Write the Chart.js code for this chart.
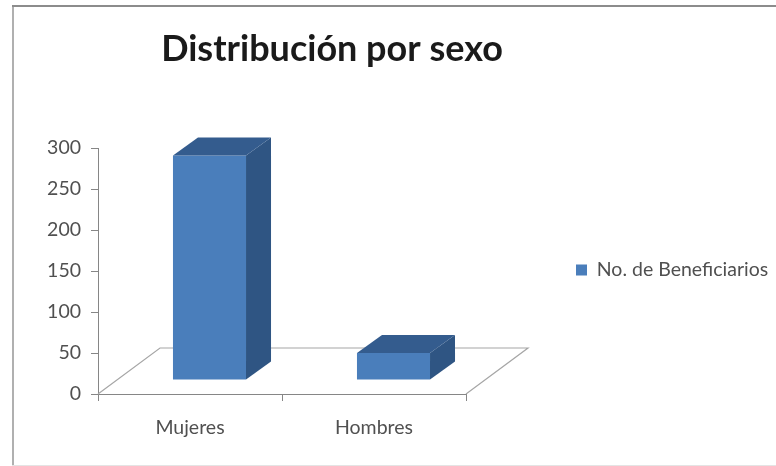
<!DOCTYPE html>
<html>
<head>
<meta charset="utf-8">
<script src="https://cdn.jsdelivr.net/npm/chart.js@4"></script>
<style>
  html, body { margin: 0; padding: 0; background: #fff; }
  #wrap { width: 776px; height: 466px; position: relative; }
</style>
</head>
<body>
<div id="wrap"><canvas id="grafico"></canvas></div>
<script>
const categorias = ['Mujeres', 'Hombres'];
const beneficiarios = [274, 33];
const ticksY = [0, 50, 100, 150, 200, 250, 300];

const colorFrente = '#4a7ebb';
const colorLado = '#2f5583';
const colorTecho = '#345c8e';
const colorEje = '#868686';
const colorTexto = '#505050';

// desplazamiento de la pseudo perspectiva 3D (estilo Excel)
const pisoDx = 62, pisoDy = 46;
const barraDx = 25, barraDy = 18;
const baseDx = 19.5, baseDy = 14;

function poligono(ctx, puntos, relleno) {
    ctx.beginPath();
    puntos.forEach((p, i) => i ? ctx.lineTo(p[0], p[1]) : ctx.moveTo(p[0], p[1]));
    ctx.closePath();
    ctx.fillStyle = relleno;
    ctx.fill();
}

const marco3D = {
    id: 'marco3D',
    afterLayout(chart) {
        // mover la leyenda a su sitio, a la derecha del area
        const leyenda = chart.legend;
        const ancho = leyenda.width, alto = leyenda.height;
        leyenda.left = 566; leyenda.right = 566 + ancho;
        leyenda.top = 270 - alto / 2; leyenda.bottom = 270 + alto / 2;
        // el titulo va centrado sobre el cuerpo, no sobre todo el lienzo
        chart.titleBlock.left = 0; chart.titleBlock.right = 664;
    },
    beforeDraw(chart) {
        const ctx = chart.ctx;
        ctx.save();
        ctx.fillStyle = '#b0b0b0';
        ctx.fillRect(12, 5, 2, 461);
        ctx.fillStyle = '#8c8c8c';
        ctx.fillRect(12, 5, 764, 2);
        ctx.fillStyle = '#e4e4e4';
        ctx.fillRect(12, 465, 764, 1);
        ctx.restore();
    },
    beforeDatasetsDraw(chart) {
        const ctx = chart.ctx, a = chart.chartArea;
        ctx.save();
        ctx.strokeStyle = '#a6a6a6';
        ctx.lineWidth = 1.2;
        ctx.beginPath();
        ctx.moveTo(a.left, a.bottom);
        ctx.lineTo(a.left + pisoDx, a.bottom - pisoDy);
        ctx.lineTo(a.right + pisoDx, a.bottom - pisoDy);
        ctx.lineTo(a.right, a.bottom);
        ctx.stroke();
        ctx.restore();
        ctx.save();
        ctx.translate(baseDx, -baseDy);
    },
    afterDatasetsDraw(chart) {
        const ctx = chart.ctx;
        chart.getDatasetMeta(0).data.forEach(barra => {
            const izq = barra.x - barra.width / 2, der = barra.x + barra.width / 2;
            poligono(ctx, [[der, barra.y], [der + barraDx, barra.y - barraDy],
                [der + barraDx, barra.base - barraDy], [der, barra.base]], colorLado);
            poligono(ctx, [[izq, barra.y], [izq + barraDx, barra.y - barraDy],
                [der + barraDx, barra.y - barraDy], [der, barra.y]], colorTecho);
        });
        ctx.restore();
    }
};

new Chart(document.getElementById('grafico'), {
    type: 'bar',
    data: {
        labels: categorias,
        datasets: [{
            label: 'No. de Beneficiarios',
            data: beneficiarios,
            backgroundColor: colorFrente,
            borderWidth: 0,
            categoryPercentage: 1,
            barPercentage: 0.397,
            clip: false
        }]
    },
    options: {
        responsive: true,
        maintainAspectRatio: false,
        animation: false,
        layout: { padding: { left: 14, right: 310, top: 0, bottom: 0 } },
        plugins: {
            title: {
                display: true,
                text: 'Distribución por sexo',
                color: '#1a1a1a',
                font: { family: "'Lato'", size: 36, weight: 'bold', lineHeight: 1.2 },
                padding: { top: 28, bottom: 77 }
            },
            legend: {
                position: 'chartArea',
                labels: {
                    boxWidth: 11,
                    boxHeight: 11,
                    color: colorTexto,
                    font: { family: "'Lato'", size: 19.5 }
                }
            },
            tooltip: { enabled: false }
        },
        scales: {
            x: {
                afterFit(scale) { scale.height = 72; },
                grid: { offset: true, drawOnChartArea: false, color: colorEje, tickLength: 7 },
                border: { color: colorEje },
                ticks: { color: colorTexto, padding: 15, maxRotation: 0, font: { family: "'Lato'", size: 19.5 } }
            },
            y: {
                min: ticksY[0],
                max: ticksY[ticksY.length - 1],
                afterFit(scale) { scale.width = 84; },
                afterBuildTicks(scale) { scale.ticks = ticksY.map(v => ({ value: v })); },
                grid: { drawOnChartArea: false, color: colorEje, tickLength: 7 },
                border: { color: colorEje },
                ticks: { color: colorTexto, padding: 10, font: { family: "'Lato'", size: 19.5 } }
            }
        }
    },
    plugins: [marco3D]
});
</script>
</body>
</html>
